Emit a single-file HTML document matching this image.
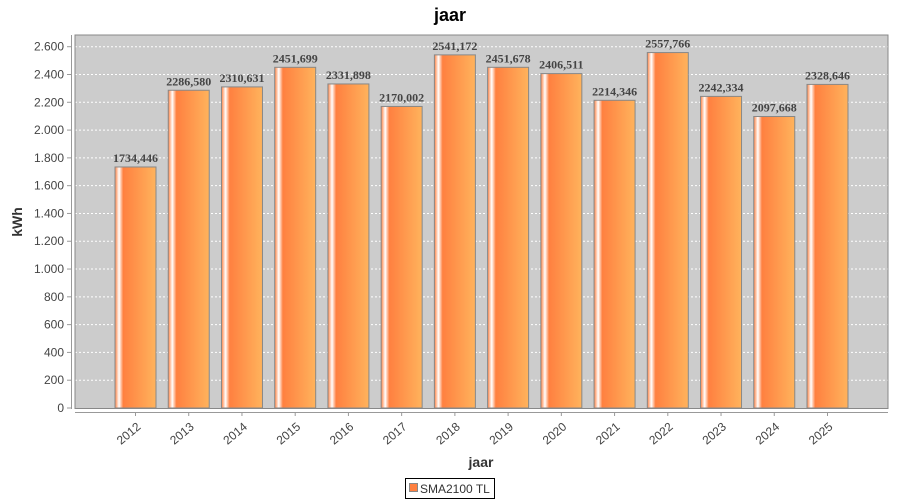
<!DOCTYPE html><html><head><style>body{margin:0;background:#fff}svg{display:block}</style></head><body>
<svg width="900" height="500" xmlns="http://www.w3.org/2000/svg" font-family="Liberation Sans, sans-serif">
<defs><linearGradient id="g" x1="0" x2="1" y1="0" y2="0">
<stop offset="0" stop-color="#ff8040"/><stop offset="0.1" stop-color="#ffffff"/><stop offset="0.2" stop-color="#ff8040"/><stop offset="1" stop-color="#ffb35c"/></linearGradient></defs>
<text x="450" y="21" text-anchor="middle" font-size="18" font-weight="bold" fill="#000">jaar</text>
<rect x="75" y="35" width="813" height="373.5" fill="#cccccc"/>
<g stroke="#ffffff" stroke-dasharray="2,2" stroke-width="1" id="grid"></g>
<g id="bars"></g>
<rect x="75" y="35" width="813" height="373.5" fill="none" stroke="#888" stroke-width="1"/>
<line x1="71.5" y1="35" x2="71.5" y2="409" stroke="#999"/>
<line x1="75" y1="412.5" x2="888" y2="412.5" stroke="#999"/>
<g id="yl" font-size="12" fill="#444" text-anchor="end"></g>
<g id="xl" font-size="12" fill="#444" text-anchor="end"></g>
<text x="22" y="222" transform="rotate(-90 22 222)" text-anchor="middle" font-size="14" font-weight="bold" fill="#333">kWh</text>
<text x="481" y="467" text-anchor="middle" font-size="14" font-weight="bold" fill="#333">jaar</text>
<rect x="405.5" y="478.5" width="89" height="20" fill="#fff" stroke="#000"/>
<rect x="409.5" y="483.5" width="8" height="8" fill="#ff8040" stroke="#888"/>
<text x="420" y="493" font-size="12" fill="#333">SMA2100 TL</text>
</svg>
<script>
var ns="http://www.w3.org/2000/svg";function el(p,t,a,txt){var e=document.createElementNS(ns,t);for(var k in a)e.setAttribute(k,a[k]);if(txt)e.textContent=txt;document.getElementById(p).appendChild(e);}
var s=361.3/2600;
for(var v=0;v<=2600;v+=200){var y=408-v*s;if(v>0)el("grid","line",{x1:75,x2:888,y1:y,y2:y});el("yl","text",{x:64,y:y+4},v==0?"0":(Math.floor(v/1000)>0?Math.floor(v/1000)+"."+String(v%1000).padStart(3,"0"):String(v)));el("yl","line",{x1:67,x2:71,y1:y,y2:y,stroke:"#999"});}
var d=[1734.446,2286.580,2310.631,2451.699,2331.898,2170.002,2541.172,2451.678,2406.511,2214.346,2557.766,2242.334,2097.668,2328.646];
d.forEach(function(v,i){var x=115+53.23*i,y=408-v*s,c=x+20.5;
el("bars","rect",{x:x,y:y,width:41,height:408-y,fill:"url(#g)",stroke:"#888","stroke-width":1});
el("bars","text",{x:c,y:y-5,"text-anchor":"middle","font-size":"12","font-weight":"bold","font-family":"Liberation Serif, serif",fill:"#444"},v.toFixed(3).replace(".",","));
el("xl","line",{x1:c,x2:c,y1:412,y2:416,stroke:"#999"});
el("xl","text",{x:c+6,y:428,transform:"rotate(-40 "+(c+6)+" 428)"},String(2012+i));});
</script>
</body></html>
